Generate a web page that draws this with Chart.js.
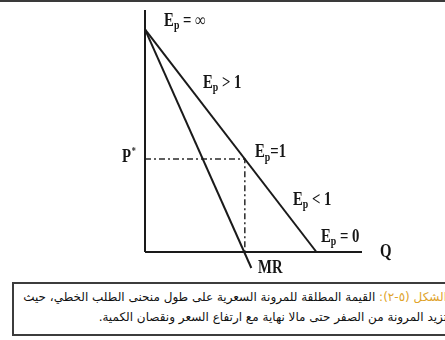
<!DOCTYPE html>
<html>
<head>
<meta charset="utf-8">
<script src="https://cdn.jsdelivr.net/npm/chart.js@4.4.1/dist/chart.umd.min.js"></script>
<style>
    html, body { margin: 0; padding: 0; background: #fff; }
    body { width: 445px; height: 340px; position: relative; overflow: hidden; }
    #topRule { position: absolute; left: 0; top: 0; width: 445px; height: 2px; background: #3a3a3a; }
    #chartBox { position: absolute; left: 0; top: 0; width: 445px; height: 283px; }
    #caption {
        position: absolute; left: 12px; top: 282px; width: 440px; height: 54px;
        border: 2px solid #3c3c3c; box-sizing: border-box; background: #fff;
        direction: rtl; font-family: "DejaVu Sans", sans-serif; font-size: 12px; color: #111;
    }
    #caption div { white-space: nowrap; position: absolute; right: 3px; }
    #caption .fig { color: #e0a32a; }
</style>
</head>
<body>
<div id="topRule"></div>
<div id="chartBox"><canvas id="elasticityChart"></canvas></div>
<div id="caption">
    <div style="top: 6px;"><span class="fig">الشكل (٥-٢):</span> القيمة المطلقة للمرونة السعرية على طول منحنى الطلب الخطي، حيث</div>
    <div style="top: 26px;">تزيد المرونة من الصفر حتى مالا نهاية مع ارتفاع السعر ونقصان الكمية.</div>
</div>
<script>
// axes extents (quantity, price)
const quantityAxis = [0, 100];
const priceAxis = [0, 100];

// linear demand curve and marginal revenue
const demandQ = [0, 79];
const demandP = [92, 0];
const mrQ = [0, 49];
const mrP = [92, -6.6];

// unit elastic point
const unitQ = 46;
const unitP = 38.4;

function toPoints(xs, ys) {
    return xs.map((x, i) => ({ x: x, y: ys[i] }));
}

// text placed on the diagram (data coordinates)
const annotations = [
    { main: 'E', sub: 'p', rest: ' = \u221e', q: 8.8, p: 95.5 },
    { main: 'E', sub: 'p', rest: ' > 1', q: 26.7, p: 69.8 },
    { main: 'E', sub: 'p', rest: '=1', q: 50.7, p: 41 },
    { main: 'E', sub: 'p', rest: ' < 1', q: 68.2, p: 21.5 },
    { main: 'E', sub: 'p', rest: ' = 0', q: 81.1, p: 6.2 },
    { main: 'P', sup: '*', q: -10.6, p: 39.3 },
    { main: 'Q', q: 108.3, p: 0 },
    { main: 'MR', q: 52.1, p: -6.6 }
];

const textPlugin = {
    id: 'diagramText',
    afterDatasetsDraw(chart) {
        const ctx = chart.ctx;
        const xs = chart.scales.x, ys = chart.scales.y;
        ctx.save();
        ctx.fillStyle = '#151515';
        ctx.textBaseline = 'middle';
        annotations.forEach(a => {
            const px = xs.getPixelForValue(a.q);
            const py = ys.getPixelForValue(a.p);
            ctx.save();
            ctx.translate(px, py);
            ctx.scale(0.82, 1);
            let x = 0;
            ctx.font = 'bold 18px "Liberation Serif"';
            ctx.fillText(a.main, x, 0);
            x += ctx.measureText(a.main).width;
            if (a.sub) {
                ctx.font = 'bold 12px "Liberation Serif"';
                ctx.fillText(a.sub, x, 5);
                x += ctx.measureText(a.sub).width;
            }
            if (a.sup) {
                ctx.font = 'bold 10px "Liberation Serif"';
                ctx.fillText(a.sup, x + 1, -5);
                x += ctx.measureText(a.sup).width;
            }
            if (a.rest) {
                ctx.font = 'bold 18px "Liberation Serif"';
                ctx.fillText(a.rest, x, 0);
            }
            ctx.restore();
        });
        ctx.restore();
    }
};

const solid = { borderColor: '#1a1a1a', borderWidth: 2, pointRadius: 0, showLine: true, clip: false, fill: false };

const data = {
    datasets: [
        Object.assign({ label: 'P axis', data: toPoints([0, 0], priceAxis) }, solid),
        Object.assign({ label: 'Q axis', data: toPoints(quantityAxis, [0, 0]) }, solid),
        Object.assign({ label: 'Demand', data: toPoints(demandQ, demandP) }, solid),
        Object.assign({ label: 'MR', data: toPoints(mrQ, mrP) }, solid),
        {
            label: 'P*',
            data: [{ x: 0, y: unitP }, { x: unitQ, y: unitP }, { x: unitQ, y: 0 }],
            borderColor: '#2a2a2a', borderWidth: 1.5, borderDash: [6, 3, 2, 3],
            pointRadius: 0, showLine: true, clip: false, fill: false
        }
    ]
};

const config = {
    type: 'scatter',
    data: data,
    options: {
        animation: false,
        responsive: true,
        maintainAspectRatio: false,
        layout: { autoPadding: false, padding: { left: 145, right: 83, top: 10, bottom: 31 } },
        plugins: { legend: { display: false }, tooltip: { enabled: false } },
        scales: {
            x: { type: 'linear', display: false, min: 0, max: 100 },
            y: { type: 'linear', display: false, min: 0, max: 100 }
        }
    },
    plugins: [textPlugin]
};

new Chart(document.getElementById('elasticityChart'), config);
</script>
</body>
</html>
